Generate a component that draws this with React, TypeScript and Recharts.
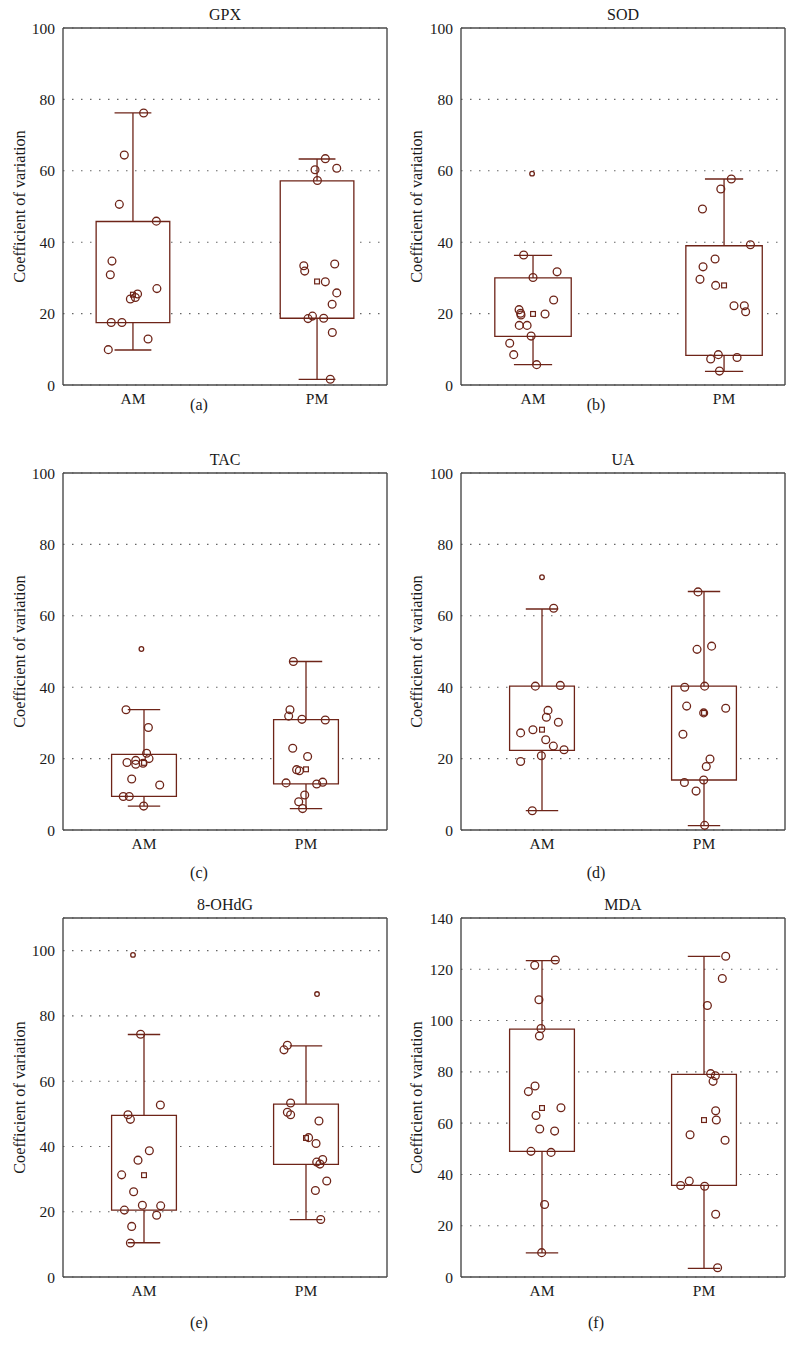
import { ComposedChart, XAxis, YAxis, CartesianGrid, Scatter, ReferenceArea, ReferenceLine } from 'recharts';

const MARK = '#6e2418';
const FRAME = '#4a4a4a';
const FONT = 'Liberation Serif, Times New Roman, serif';

const groups = ['AM', 'PM'];
const yLabel = 'Coefficient of variation';

// values; jitter is the horizontal spread around each group (in group units)
// box arrays are [lower whisker, Q1, Q3, upper whisker]

const gpxAM = [76.2, 64.4, 50.6, 45.9, 34.7, 30.9, 27.0, 25.5, 24.5, 24.1, 17.5, 17.5, 12.9, 9.9];
const gpxAMJitter = [0.058, -0.047, -0.074, 0.127, -0.114, -0.123, 0.13, 0.025, 0.013, -0.014, -0.118, -0.06, 0.082, -0.134];
const gpxPM = [63.4, 60.7, 60.3, 57.3, 33.4, 31.9, 33.9, 28.9, 25.8, 22.6, 19.3, 18.6, 18.7, 14.7, 1.6];
const gpxPMJitter = [0.045, 0.107, -0.011, 0.002, -0.072, -0.067, 0.096, 0.045, 0.107, 0.082, -0.025, -0.049, 0.036, 0.083, 0.072];
const gpxBoxes = [[9.8, 17.5, 45.8, 76.2], [1.6, 18.7, 57.2, 63.3]];
const gpxMeans = [25.3, 29.0];
const gpxOutliers: number[][] = [];

const sodAM = [36.4, 30.1, 31.7, 23.8, 21.1, 20.1, 19.6, 19.9, 16.7, 16.7, 13.7, 11.7, 8.5, 5.7];
const sodAMJitter = [-0.049, 0, 0.126, 0.108, -0.073, -0.065, -0.063, 0.063, -0.072, -0.031, -0.01, -0.122, -0.101, 0.019];
const sodPM = [57.7, 54.9, 49.3, 39.3, 35.3, 33.1, 29.6, 27.9, 22.2, 22.2, 20.5, 8.5, 7.3, 7.7, 3.9];
const sodPMJitter = [0.038, -0.017, -0.113, 0.138, -0.047, -0.11, -0.126, -0.044, 0.052, 0.106, 0.113, -0.03, -0.07, 0.068, -0.024];
const sodBoxes = [[5.7, 13.6, 30.0, 36.3], [3.8, 8.3, 39.0, 57.7]];
const sodMeans = [19.9, 27.9];
const sodOutliers = [[0, -0.005, 59.2]];

const tacAM = [33.7, 28.7, 21.5, 20.0, 19.5, 18.9, 18.4, 18.7, 14.3, 12.6, 9.4, 9.4, 6.7];
const tacAMJitter = [-0.111, 0.027, 0.016, 0.031, -0.051, -0.105, -0.051, -0.006, -0.076, 0.097, -0.128, -0.091, -0.002];
const tacPM = [47.2, 33.7, 31.9, 31.0, 30.8, 22.9, 20.6, 16.9, 16.6, 13.2, 12.9, 13.4, 9.8, 7.9, 6.0];
const tacPMJitter = [-0.078, -0.099, -0.107, -0.025, 0.119, -0.082, 0.01, -0.058, -0.041, -0.123, 0.066, 0.103, -0.008, -0.045, -0.021];
const tacBoxes = [[6.7, 9.4, 21.2, 33.7], [6.0, 12.9, 30.9, 47.2]];
const tacMeans = [18.8, 17.0];
const tacOutliers = [[0, -0.016, 50.7]];

const uaAM = [62.1, 40.3, 40.5, 33.5, 31.6, 30.2, 27.2, 28.1, 25.3, 23.5, 22.5, 19.2, 20.8, 5.4];
const uaAMJitter = [0.072, -0.041, 0.113, 0.037, 0.027, 0.101, -0.132, -0.056, 0.023, 0.07, 0.136, -0.132, -0.004, -0.06];
const uaPM = [66.7, 51.5, 50.6, 40.0, 40.3, 34.7, 34.1, 32.8, 26.8, 19.9, 17.8, 14.0, 13.3, 10.9, 1.3];
const uaPMJitter = [-0.037, 0.047, -0.043, -0.119, 0.004, -0.107, 0.134, -0.002, -0.13, 0.037, 0.014, -0.002, -0.121, -0.049, 0.004];
const uaBoxes = [[5.4, 22.3, 40.3, 61.9], [1.2, 14.0, 40.3, 66.8]];
const uaMeans = [28.1, 32.8];
const uaOutliers = [[0, 0, 70.8]];

const ohdgAM = [74.4, 52.7, 49.7, 48.3, 38.7, 35.8, 31.3, 26.1, 22.0, 21.8, 20.5, 18.9, 15.5, 10.4];
const ohdgAMJitter = [-0.021, 0.101, -0.099, -0.084, 0.033, -0.037, -0.138, -0.064, -0.01, 0.103, -0.121, 0.078, -0.076, -0.084];
const ohdgPM = [71.0, 69.6, 53.3, 50.5, 49.7, 47.8, 42.7, 40.9, 36.0, 35.2, 34.6, 29.4, 26.5, 17.6];
const ohdgPMJitter = [-0.115, -0.136, -0.095, -0.115, -0.095, 0.08, 0.016, 0.062, 0.103, 0.066, 0.086, 0.128, 0.058, 0.091];
const ohdgBoxes = [[10.5, 20.5, 49.5, 74.3], [17.6, 34.5, 53.0, 70.8]];
const ohdgMeans = [31.2, 42.6];
const ohdgOutliers = [[0, -0.068, 98.7], [1, 0.068, 86.7]];

const mdaAM = [123.6, 121.6, 108.1, 96.9, 94.0, 74.5, 72.3, 66.0, 63.0, 57.7, 56.9, 49.0, 48.6, 28.3, 9.5];
const mdaAMJitter = [0.082, -0.045, -0.019, -0.006, -0.016, -0.043, -0.084, 0.117, -0.037, -0.014, 0.078, -0.068, 0.056, 0.016, -0.002];
const mdaPM = [125.1, 116.4, 105.9, 79.3, 78.5, 76.3, 64.8, 61.2, 53.3, 55.5, 37.4, 35.7, 35.4, 24.5, 3.6];
const mdaPMJitter = [0.134, 0.113, 0.021, 0.041, 0.07, 0.056, 0.072, 0.076, 0.13, -0.086, -0.091, -0.144, 0.004, 0.072, 0.084];
const mdaBoxes = [[9.4, 49.0, 96.7, 123.4], [3.4, 35.7, 79.0, 125.0]];
const mdaMeans = [65.9, 61.2];

const ticks100 = [0, 20, 40, 60, 80, 100];
const ticks140 = [0, 20, 40, 60, 80, 100, 120, 140];

type Spec = {
  title: string;
  caption: string;
  am: number[];
  amJitter: number[];
  pm: number[];
  pmJitter: number[];
  boxes: number[][];
  means: number[];
  outliers: number[][];
  yMax: number;
  yTicks: number[];
  xDomain: [number, number];
  col: number;
  row: number;
};

const panels: Spec[] = [
  { title: 'GPX', caption: '(a)', am: gpxAM, amJitter: gpxAMJitter, pm: gpxPM, pmJitter: gpxPMJitter, boxes: gpxBoxes, means: gpxMeans, outliers: gpxOutliers, yMax: 100, yTicks: ticks100, xDomain: [0.62, 2.38], col: 0, row: 0 },
  { title: 'SOD', caption: '(b)', am: sodAM, amJitter: sodAMJitter, pm: sodPM, pmJitter: sodPMJitter, boxes: sodBoxes, means: sodMeans, outliers: sodOutliers, yMax: 100, yTicks: ticks100, xDomain: [0.623, 2.319], col: 1, row: 0 },
  { title: 'TAC', caption: '(c)', am: tacAM, amJitter: tacAMJitter, pm: tacPM, pmJitter: tacPMJitter, boxes: tacBoxes, means: tacMeans, outliers: tacOutliers, yMax: 100, yTicks: ticks100, xDomain: [0.5, 2.5], col: 0, row: 1 },
  { title: 'UA', caption: '(d)', am: uaAM, amJitter: uaAMJitter, pm: uaPM, pmJitter: uaPMJitter, boxes: uaBoxes, means: uaMeans, outliers: uaOutliers, yMax: 100, yTicks: ticks100, xDomain: [0.5, 2.5], col: 1, row: 1 },
  { title: '8-OHdG', caption: '(e)', am: ohdgAM, amJitter: ohdgAMJitter, pm: ohdgPM, pmJitter: ohdgPMJitter, boxes: ohdgBoxes, means: ohdgMeans, outliers: ohdgOutliers, yMax: 110, yTicks: ticks100, xDomain: [0.5, 2.5], col: 0, row: 2 },
  { title: 'MDA', caption: '(f)', am: mdaAM, amJitter: mdaAMJitter, pm: mdaPM, pmJitter: mdaPMJitter, boxes: mdaBoxes, means: mdaMeans, outliers: [], yMax: 140, yTicks: ticks140, xDomain: [0.5, 2.5], col: 1, row: 2 },
];

// layout of the grid
const colLeft = [0, 396];
const colWidth = [398, 400];
const axisWidth = [63, 65];
const rowTop = [0, 445, 890];
const rowHeight = [445, 445, 466];
const plotBottom = [385, 385, 387];
const captionY = [405, 428, 433];

const ring = (r: number) => (p: any) => (
  <circle cx={p.cx} cy={p.cy} r={r} fill="none" stroke={MARK} strokeWidth={1.3} />
);
const square = (p: any) => (
  <rect x={p.cx - 2.4} y={p.cy - 2.4} width={4.8} height={4.8} fill="none" stroke={MARK} strokeWidth={1.2} />
);

const tickStyle = { fill: '#1a1a1a', fontSize: 15.5, fontFamily: FONT };

function Panel({ spec }: { spec: Spec }) {
  const { col, row } = spec;
  const width = colWidth[col];
  const height = rowHeight[row];
  const plotRight = width - 11;
  const plotLeft = axisWidth[col];
  const points = [
    ...spec.am.map((y, i) => ({ x: 1 + spec.amJitter[i], y })),
    ...spec.pm.map((y, i) => ({ x: 2 + spec.pmJitter[i], y })),
  ];
  const means = spec.means.map((y, i) => ({ x: i + 1, y }));
  const outliers = spec.outliers.map(([g, j, y]) => ({ x: g + 1 + j, y }));
  const textBase = { position: 'absolute' as const, fontSize: 16, color: '#1a1a1a', textAlign: 'center' as const, width: 200, lineHeight: '18px' };

  return (
    <div style={{ position: 'absolute', left: colLeft[col], top: rowTop[row], width, height, fontFamily: FONT }}>
      <ComposedChart width={width} height={height} margin={{ top: 27, right: 10, bottom: 0, left: 0 }} style={{ fontFamily: FONT }}>
        <CartesianGrid vertical={false} stroke="#666" strokeWidth={1.1} strokeDasharray="1.5 7.5" />
        <XAxis
          type="number"
          dataKey="x"
          domain={spec.xDomain}
          ticks={[1, 2]}
          tickFormatter={(v: number) => groups[v - 1]}
          allowDataOverflow
          height={height - plotBottom[row]}
          axisLine={{ stroke: FRAME, strokeWidth: 1.4 }}
          tickLine={false}
          tick={tickStyle}
        />
        <XAxis
          xAxisId="top"
          orientation="top"
          type="number"
          domain={spec.xDomain}
          ticks={[1, 2]}
          allowDataOverflow
          height={1}
          tick={false}
          tickSize={4}
          axisLine={{ stroke: FRAME, strokeWidth: 1.4 }}
          tickLine={{ stroke: FRAME }}
        />
        <YAxis
          type="number"
          dataKey="y"
          domain={[0, spec.yMax]}
          ticks={spec.yTicks}
          allowDataOverflow
          width={plotLeft}
          axisLine={{ stroke: FRAME, strokeWidth: 1.4 }}
          tickLine={false}
          tick={tickStyle}
          label={{
            value: yLabel,
            angle: -90,
            position: 'insideLeft',
            offset: col === 0 ? 19 : 20,
            style: { textAnchor: 'middle', fontSize: 16.3, fontFamily: FONT, fill: '#1a1a1a' },
          }}
        />
        <YAxis
          yAxisId="right"
          orientation="right"
          type="number"
          domain={[0, spec.yMax]}
          ticks={spec.yTicks}
          width={1}
          tick={false}
          tickLine={false}
          axisLine={{ stroke: FRAME, strokeWidth: 1.4 }}
        />
        {spec.boxes.map((b, i) => (
          <ReferenceArea
            key={'box' + i}
            x1={i + 1 - 0.2}
            x2={i + 1 + 0.2}
            y1={b[1]}
            y2={b[2]}
            fill="#fff"
            fillOpacity={1}
            stroke={MARK}
            strokeWidth={1.3}
          />
        ))}
        {spec.boxes.map((b, i) => (
          <ReferenceLine key={'wl' + i} segment={[{ x: i + 1, y: b[0] }, { x: i + 1, y: b[1] }]} stroke={MARK} strokeWidth={1.3} />
        ))}
        {spec.boxes.map((b, i) => (
          <ReferenceLine key={'wh' + i} segment={[{ x: i + 1, y: b[2] }, { x: i + 1, y: b[3] }]} stroke={MARK} strokeWidth={1.3} />
        ))}
        {spec.boxes.map((b, i) => (
          <ReferenceLine key={'cl' + i} segment={[{ x: i + 0.9, y: b[0] }, { x: i + 1.1, y: b[0] }]} stroke={MARK} strokeWidth={1.3} />
        ))}
        {spec.boxes.map((b, i) => (
          <ReferenceLine key={'ch' + i} segment={[{ x: i + 0.9, y: b[3] }, { x: i + 1.1, y: b[3] }]} stroke={MARK} strokeWidth={1.3} />
        ))}
        <Scatter data={points} shape={ring(3.9)} isAnimationActive={false} />
        <Scatter data={outliers} shape={ring(2.3)} isAnimationActive={false} />
        <Scatter data={means} shape={square} isAnimationActive={false} />
      </ComposedChart>
      <div style={{ ...textBase, left: (plotLeft + plotRight) / 2 - 100, top: 6 }}>{spec.title}</div>
      <div style={{ ...textBase, left: width / 2 - 100, top: captionY[row] - 9 }}>{spec.caption}</div>
    </div>
  );
}

export default function App() {
  return (
    <div style={{ position: 'absolute', left: 0, top: 0, width: 796, height: 1356, background: '#fff', fontFamily: FONT }}>
      {panels.map((p) => (
        <Panel key={p.title} spec={p} />
      ))}
    </div>
  );
}
